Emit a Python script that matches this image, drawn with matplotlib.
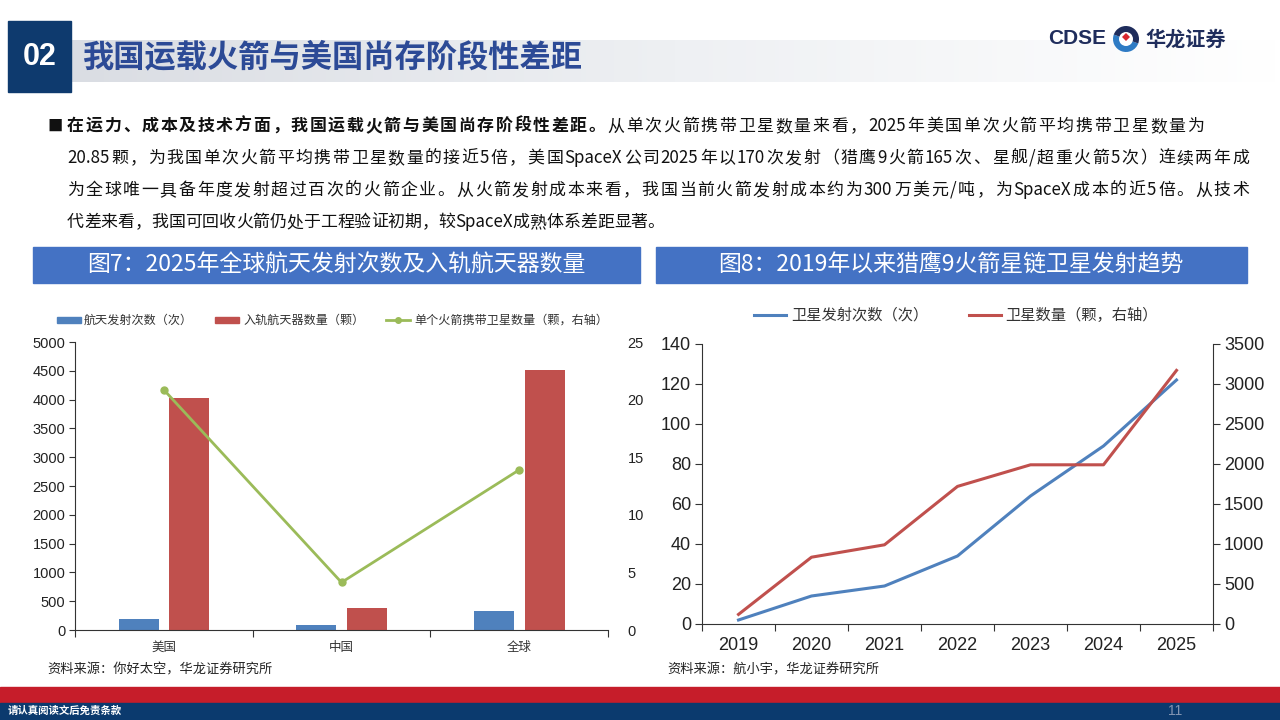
import matplotlib
matplotlib.use('Agg')
import matplotlib.pyplot as plt
import numpy as np
from matplotlib.patches import Rectangle, Circle, Wedge, Polygon
from matplotlib.lines import Line2D

plt.rcParams['font.family'] = ['Noto Sans CJK SC', 'DejaVu Sans']
NUM_FONT = ['Liberation Sans Narrow', 'Liberation Sans', 'DejaVu Sans']

# ---------------- data ----------------
regions = ['美国', '中国', '全球']
launches = [186, 88, 324]
spacecraft = [4020, 380, 4510]
sats_per_rocket = [20.85, 4.13, 13.9]

years = ['2019', '2020', '2021', '2022', '2023', '2024', '2025']
starlink_launches = [2, 14, 19, 34, 64, 89, 122]
starlink_sats = [120, 835, 990, 1720, 1990, 1990, 3170]

left_yticks = [0, 500, 1000, 1500, 2000, 2500, 3000, 3500, 4000, 4500, 5000]
left_y2ticks = [0, 5, 10, 15, 20, 25]
right_yticks = [0, 20, 40, 60, 80, 100, 120, 140]
right_y2ticks = [0, 500, 1000, 1500, 2000, 2500, 3000, 3500]

BLUE = '#4F81BD'
RED = '#C0504D'
GREEN = '#9BBB59'
NAVY = '#0E3A6E'
TITLE_BLUE = '#4472C4'

fig = plt.figure(figsize=(12.8, 7.2), dpi=100)
bg = fig.add_axes([0, 0, 1, 1])
bg.set_xlim(0, 1280)
bg.set_ylim(720, 0)
bg.axis('off')

# ---------------- header ----------------
grad = np.linspace(0, 1, 256).reshape(1, -1)
from matplotlib.colors import LinearSegmentedColormap
gcmap = LinearSegmentedColormap.from_list('g', ['#DADDE3', '#EEF0F3', '#FFFFFF'])
bg.imshow(grad, cmap=gcmap, extent=[71, 1280, 82, 40], aspect='auto', zorder=0)
bg.add_patch(Rectangle((8, 21), 63, 71, color=NAVY, zorder=2))
bg.text(39.5, 57, '02', color='white', fontsize=22, fontweight='bold',
        family=['Liberation Sans', 'DejaVu Sans'], ha='center', va='center', zorder=3)
bg.text(82, 57, '我国运载火箭与美国尚存阶段性差距', color='#2C4A96', fontsize=22.5,
        fontweight='black', ha='left', va='center', zorder=3)

# logo
bg.text(1048, 39, 'CDSE', color='#1F2D5C', fontsize=15, fontweight='bold',
        family=['Liberation Sans', 'DejaVu Sans'], ha='left', va='center')
bg.add_patch(Wedge((1126, 39), 13, 20, 200, facecolor='#2E7BC4', edgecolor='none'))
bg.add_patch(Wedge((1126, 39), 13, 200, 380, facecolor='#1F2D5C', edgecolor='none'))
bg.add_patch(Circle((1126, 39), 7, facecolor='white', edgecolor='none'))
bg.add_patch(Polygon([(1126, 33), (1130, 37), (1126, 41), (1122, 37)], facecolor='#D7262E'))
bg.text(1145, 39, '华龙证券', color='#1F2D5C', fontsize=14.5, fontweight='bold',
        ha='left', va='center')

# ---------------- body text (justified) ----------------
renderer = fig.canvas.get_renderer()


def tokenize(segments):
    toks = []
    for txt, bold in segments:
        buf = ''
        for ch in txt:
            if ord(ch) < 128:
                buf += ch
            else:
                if buf:
                    toks.append((buf, bold))
                    buf = ''
                toks.append((ch, bold))
        if buf:
            toks.append((buf, bold))
    return toks


def draw_line(segments, x0, y, x1=None, size=12.2):
    toks = tokenize(segments)
    widths = []
    for t, b in toks:
        tt = bg.text(0, 0, t, fontsize=size, fontweight='bold' if b else 'normal')
        bb = tt.get_window_extent(renderer)
        widths.append(bb.width)
        tt.remove()
    total = sum(widths)
    gap = 0
    if x1 is not None and len(toks) > 1:
        gap = (x1 - x0 - total) / (len(toks) - 1)
    x = x0
    for (t, b), w in zip(toks, widths):
        bg.text(x, y, t, fontsize=size, fontweight='bold' if b else 'normal',
                ha='left', va='center', color='#111111')
        x += w + gap


bg.text(47, 126, '■', fontsize=11, ha='left', va='center', color='#111111')
draw_line([('在运力、成本及技术方面，我国运载火箭与美国尚存阶段性差距。', True),
           ('从单次火箭携带卫星数量来看，2025年美国单次火箭平均携带卫星数量为', False)],
          67, 126, 1204)
draw_line([('20.85颗，为我国单次火箭平均携带卫星数量的接近5倍，美国SpaceX公司2025年以170次发射（猎鹰9火箭165次、星舰/超重火箭5次）连续两年成', False)],
          67, 158, 1249)
draw_line([('为全球唯一具备年度发射超过百次的火箭企业。从火箭发射成本来看，我国当前火箭发射成本约为300万美元/吨，为SpaceX成本的近5倍。从技术', False)],
          67, 190, 1249)
draw_line([('代差来看，我国可回收火箭仍处于工程验证初期，较SpaceX成熟体系差距显著。', False)],
          67, 222, None)

# ---------------- figure title bars ----------------
bg.add_patch(Rectangle((33, 247), 607, 36, color=TITLE_BLUE))
bg.text(336, 265, '图7：2025年全球航天发射次数及入轨航天器数量', color='white', fontsize=16.5,
        fontweight='medium', ha='center', va='center')
bg.add_patch(Rectangle((656, 247), 591, 36, color=TITLE_BLUE))
bg.text(951, 265, '图8：2019年以来猎鹰9火箭星链卫星发射趋势', color='white', fontsize=16.5,
        fontweight='medium', ha='center', va='center')

# ---------------- left chart legend ----------------
lg_y = 320
bg.add_patch(Rectangle((57, lg_y - 3), 24, 6, color=BLUE))
bg.text(84, lg_y, '航天发射次数（次）', fontsize=8.7, ha='left', va='center', color='#333333')
bg.add_patch(Rectangle((215, lg_y - 3), 24, 6, color=RED))
bg.text(243, lg_y, '入轨航天器数量（颗）', fontsize=8.7, ha='left', va='center', color='#333333')
bg.add_line(Line2D([386, 410], [lg_y, lg_y], color=GREEN, lw=2))
bg.add_line(Line2D([398], [lg_y], color=GREEN, marker='o', markersize=4))
bg.text(414, lg_y, '单个火箭携带卫星数量（颗，右轴）', fontsize=8.7, ha='left', va='center', color='#333333')

# ---------------- left chart ----------------
ax1 = fig.add_axes([75 / 1280, (720 - 630) / 720, 533 / 1280, 288 / 720])
x = np.arange(len(regions))
bw = 0.225
ax1.bar(x - 0.142, launches, width=bw, color=BLUE, zorder=2)
ax1.bar(x + 0.144, spacecraft, width=bw, color=RED, zorder=2)
ax1.set_xlim(-0.5, 2.5)
ax1.set_ylim(0, 5000)
ax1.set_yticks(left_yticks)
ax1.set_xticks([-0.5, 0.5, 1.5, 2.5])
ax1.set_xticklabels([])
ax1.set_xticks(x, minor=True)
ax1.set_xticklabels(regions, minor=True, fontsize=9, color='#333333')
ax1.tick_params(axis='x', which='minor', length=0, pad=8)
ax1.tick_params(axis='x', which='major', length=5, direction='out', color='#333333')
ax1.tick_params(axis='y', length=4, direction='out', color='#333333', labelsize=10.5, pad=3)
for lab in ax1.get_yticklabels():
    lab.set_family(NUM_FONT)
    lab.set_color('#222222')
for s in ['top', 'right']:
    ax1.spines[s].set_visible(False)
ax1.spines['left'].set_color('#333333')
ax1.spines['bottom'].set_color('#333333')
ax1.patch.set_alpha(0)

ax1b = ax1.twinx()
ax1b.plot(x, sats_per_rocket, color=GREEN, lw=2, marker='o', markersize=5, zorder=3)
ax1b.set_ylim(0, 25)
ax1b.set_yticks(left_y2ticks)
ax1b.tick_params(axis='y', length=0, labelsize=10.5, pad=14)
for lab in ax1b.get_yticklabels():
    lab.set_family(NUM_FONT)
    lab.set_color('#222222')
for s in ['top', 'right', 'left', 'bottom']:
    ax1b.spines[s].set_visible(False)

# ---------------- right chart legend ----------------
rl_y = 315
bg.add_line(Line2D([754, 786], [rl_y, rl_y], color=BLUE, lw=2.2))
bg.text(791, rl_y, '卫星发射次数（次）', fontsize=11, ha='left', va='center', color='#333333')
bg.add_line(Line2D([969, 1001], [rl_y, rl_y], color=RED, lw=2.2))
bg.text(1005, rl_y, '卫星数量（颗，右轴）', fontsize=11, ha='left', va='center', color='#333333')

# ---------------- right chart ----------------
ax2 = fig.add_axes([702 / 1280, (720 - 624) / 720, 511 / 1280, 280 / 720])
xi = np.arange(len(years))
ax2.plot(xi, starlink_launches, color=BLUE, lw=2.2, zorder=3)
ax2.set_xlim(-0.5, 6.5)
ax2.set_ylim(0, 140)
ax2.set_yticks(right_yticks)
ax2.set_xticks(np.arange(-0.5, 7, 1))
ax2.set_xticklabels([])
ax2.set_xticks(xi, minor=True)
ax2.set_xticklabels(years, minor=True)
ax2.tick_params(axis='x', which='minor', length=0, pad=9, labelsize=13)
ax2.tick_params(axis='x', which='major', length=5, direction='out', color='#333333')
ax2.tick_params(axis='y', length=5, direction='out', color='#333333', labelsize=13, pad=3)
for lab in ax2.get_yticklabels() + ax2.get_xticklabels(minor=True):
    lab.set_family(NUM_FONT)
    lab.set_color('#222222')
ax2.spines['top'].set_visible(False)
ax2.spines['right'].set_visible(False)
ax2.spines['left'].set_color('#333333')
ax2.spines['bottom'].set_color('#333333')
ax2.patch.set_alpha(0)

ax2b = ax2.twinx()
ax2b.plot(xi, starlink_sats, color=RED, lw=2.2, zorder=3)
ax2b.set_ylim(0, 3500)
ax2b.set_yticks(right_y2ticks)
ax2b.tick_params(axis='y', length=5, direction='out', color='#333333', labelsize=13, pad=3)
for lab in ax2b.get_yticklabels():
    lab.set_family(NUM_FONT)
    lab.set_color('#222222')
ax2b.spines['top'].set_visible(False)
ax2b.spines['left'].set_visible(False)
ax2b.spines['bottom'].set_visible(False)
ax2b.spines['right'].set_color('#333333')

# ---------------- sources ----------------
bg.text(47, 670, '资料来源：你好太空，华龙证券研究所', fontsize=9.5, ha='left', va='center', color='#222222')
bg.text(667, 670, '资料来源：航小宇，华龙证券研究所', fontsize=9.5, ha='left', va='center', color='#222222')

# ---------------- footer ----------------
bg.add_patch(Rectangle((0, 687), 1280, 16, color='#C61D2A'))
bg.add_patch(Rectangle((0, 703), 1280, 17, color='#0B3A6E'))
bg.text(8, 711, '请认真阅读文后免责条款', fontsize=7.5, fontweight='bold', color='white',
        ha='left', va='center')
bg.text(1175, 711, '11', fontsize=10, color='#8395B3', ha='center', va='center',
        family=['Liberation Sans', 'DejaVu Sans'])

fig.savefig('out.png', dpi=100)
